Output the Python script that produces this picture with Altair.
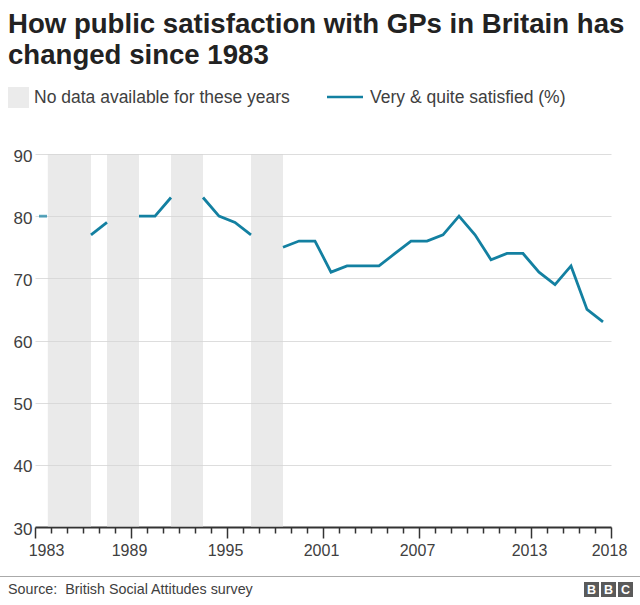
import altair as alt
import pandas as pd

# ---------------- data ----------------
years = [1983, 1986, 1987, 1989, 1990, 1991, 1993, 1994, 1995, 1996, 1998, 1999,
         2000, 2001, 2002, 2003, 2004, 2005, 2006, 2007, 2008, 2009, 2010, 2011,
         2012, 2013, 2014, 2015, 2016, 2017, 2018]
satisfied = [80, 77, 79, 80, 80, 83, 83, 80, 79, 77, 75, 76,
             76, 71, 72, 72, 72, 74, 76, 76, 77, 80, 77, 73,
             74, 74, 71, 69, 72, 65, 63]

gap_start = [1983.3, 1987, 1991, 1996]
gap_end = [1986, 1989, 1993, 1998]

tick_values = [1982.5 + i for i in range(37)]
label_positions = [1982.5, 1988.5, 1994.5, 2000.5, 2006.5, 2013.5, 2018.5]
label_texts = ["1983", "1989", "1995", "2001", "2007", "2013", "2018"]
y_ticks = [30, 40, 50, 60, 70, 80, 90]

title_lines = ["How public satisfaction with GPs in Britain has", "changed since 1983"]
legend_gap = "No data available for these years"
legend_line = "Very & quite satisfied (%)"
source_text = "Source:\u00a0 British Social Attitudes survey"
logo_letters = ["B", "B", "C"]

# ---------------- build tables ----------------
seg, s = [], 0
for i, y in enumerate(years):
    if i > 0 and y - years[i - 1] > 1:
        s += 1
    seg.append(s)
df = pd.DataFrame({"year": years, "value": satisfied, "seg": seg})
counts = df["seg"].value_counts()
df_line = df[df["seg"].map(counts) > 1]
df_single = df[df["seg"].map(counts) == 1]
gaps = pd.DataFrame({"start": gap_start, "end": gap_end})

FONT = "Liberation Sans"
TEAL = "#1380A1"
TEXT = "#404040"
W, H = 576, 373

label_expr = "".join(
    f"datum.value == {p} ? '{t}' : " for p, t in zip(label_positions, label_texts)
) + "''"
major_test = "indexof([" + ",".join(str(p) for p in label_positions) + "], datum.value) >= 0"

x_scale = alt.Scale(domain=[1982.5, 2018.5], nice=False, zero=False)
y_scale = alt.Scale(domain=[30, 90], nice=False, zero=False)

x_axis = alt.Axis(
    values=tick_values, labelExpr=label_expr, title=None, grid=False,
    domainColor="#333333", domainWidth=2, tickColor="#333333", tickWidth=1.5,
    tickSize={"condition": {"test": major_test, "value": 11}, "value": 6},
    labelOffset={"condition": {"test": "datum.value == 1982.5", "value": 11}, "value": -2},
    labelFont=FONT, labelFontSize=16, labelColor=TEXT, labelPadding=4,
    labelOverlap=False, labelBound=False, labelFlush=False,
)
y_axis = alt.Axis(
    values=y_ticks, title=None, domain=False, ticks=False, grid=True,
    gridColor="#dddddd", gridWidth=1,
    labelFont=FONT, labelFontSize=17, labelColor=TEXT, labelPadding=3,
    labelBaseline="middle", labelOffset=2, labelOverlap=False,
)

gap_layer = alt.Chart(gaps).mark_rect(color="#d6d6d6", opacity=0.5).encode(
    x=alt.X("start:Q", scale=x_scale, axis=x_axis),
    x2="end:Q",
    y=alt.Y(datum=90, scale=y_scale, axis=y_axis),
    y2=alt.Y2(datum=30),
)

line_layer = alt.Chart(df_line).mark_line(color=TEAL, strokeWidth=2.8).encode(
    x=alt.X("year:Q", scale=x_scale, axis=x_axis),
    y=alt.Y("value:Q", scale=y_scale, axis=y_axis),
    detail="seg:N",
)

single_layer = alt.Chart(df_single).mark_tick(
    color=TEAL, orient="horizontal", size=8, thickness=2.8
).encode(
    x=alt.X("year:Q", scale=x_scale, axis=x_axis),
    y=alt.Y("value:Q", scale=y_scale, axis=y_axis),
)

one = pd.DataFrame({"k": [0]})

title_layer = alt.Chart(one).mark_text(
    text=title_lines, font=FONT, fontSize=27.6, fontWeight="bold", color="#222222",
    align="left", baseline="alphabetic", lineHeight=31,
).encode(x=alt.value(-27), y=alt.value(-121))

leg_box = alt.Chart(one).mark_rect(color="#ebebeb").encode(
    x=alt.value(-27), x2=alt.value(-6), y=alt.value(-67), y2=alt.value(-46)
)
leg_text1 = alt.Chart(one).mark_text(
    text=legend_gap, font=FONT, fontSize=17.5, color=TEXT, align="left", baseline="alphabetic"
).encode(x=alt.value(-1), y=alt.value(-51))
leg_line = alt.Chart(one).mark_rule(color=TEAL, strokeWidth=2.5).encode(
    x=alt.value(292), x2=alt.value(328), y=alt.value(-57)
)
leg_text2 = alt.Chart(one).mark_text(
    text=legend_line, font=FONT, fontSize=17.5, color=TEXT, align="left", baseline="alphabetic"
).encode(x=alt.value(335), y=alt.value(-51))

foot_rule = alt.Chart(one).mark_rule(color="#aaaaaa", strokeWidth=1).encode(
    x=alt.value(-35), x2=alt.value(605), y=alt.value(422.5)
)
source_layer = alt.Chart(one).mark_text(
    text=source_text, font=FONT, fontSize=14.3, color=TEXT, align="left", baseline="middle"
).encode(x=alt.value(-27), y=alt.value(436))

logo_layers = []
for i, letter in enumerate(logo_letters):
    x0 = 549 + 17 * i
    logo_layers.append(
        alt.Chart(one).mark_rect(color="#5a5a5a").encode(
            x=alt.value(x0), x2=alt.value(x0 + 15), y=alt.value(428), y2=alt.value(443)
        )
    )
    logo_layers.append(
        alt.Chart(one).mark_text(
            text=letter, font=FONT, fontSize=12.5, fontWeight="bold", color="white",
            align="center", baseline="middle"
        ).encode(x=alt.value(x0 + 7.5), y=alt.value(436))
    )

chart = alt.layer(
    gap_layer, line_layer, single_layer,
    title_layer, leg_box, leg_text1, leg_line, leg_text2,
    foot_rule, source_layer, *logo_layers,
).properties(
    width=W, height=H,
    padding={"left": 35, "top": 154, "right": 29, "bottom": 78},
    autosize=alt.AutoSizeParams(type="none"),
    background="white",
).configure_view(stroke=None).configure_axis(labelOverlap=False, grid=True).configure_axisX(grid=False)

chart.save("out.html", embed_options={"renderer": "svg", "actions": False})
